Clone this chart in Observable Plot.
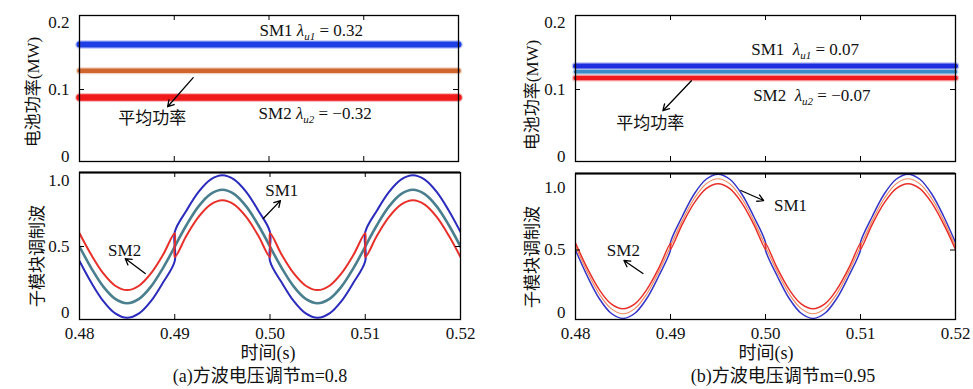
<!DOCTYPE html>
<html><head><meta charset="utf-8">
<script src="https://cdn.jsdelivr.net/npm/d3@7"></script>
<script src="https://cdn.jsdelivr.net/npm/@observablehq/plot@0.6"></script>
<style>
body{margin:0;background:#fff;}
#root{position:relative;width:973px;height:389px;overflow:hidden;font-family:"Liberation Serif","Noto Sans CJK SC",serif;color:#111;}
.p{position:absolute;}
.lbl{position:absolute;font-size:18px;white-space:nowrap;line-height:1;}
.ylbl{position:absolute;font-size:17px;white-space:nowrap;line-height:1;transform:translate(-50%,-50%) rotate(-90deg);}
</style></head><body><div id="root"></div>
<script>
// ---------- data ----------
const timeDomain = [0.48, 0.52];
const timeTicks = [0.48, 0.49, 0.50, 0.51, 0.52];
const powerTicks = [0, 0.1, 0.2];
const modTicks = [0, 0.5, 1.0];

// battery power (MW), panel (a) and (b): SM1, average, SM2
const powerNames = ["SM1", "平均功率", "SM2"];
const powerA = [0.167, 0.128, 0.088];
const powerB = [0.135, 0.1265, 0.117];

// modulation wave sample times (duplicated times mark square-wave jumps)
const tMod = [
  0.48,0.48125,0.4825,0.48375,0.485,0.48625,0.4875,0.48875,0.49,
  0.49,0.49125,0.4925,0.49375,0.495,0.49625,0.4975,0.49875,0.50,
  0.50,0.50125,0.5025,0.50375,0.505,0.50625,0.5075,0.50875,0.51,
  0.51,0.51125,0.5125,0.51375,0.515,0.51625,0.5175,0.51875,0.52
];
// panel (a) m=0.8
const modA_SM1 = [
  0.39,0.225,0.086,-0.007,-0.04,-0.007,0.086,0.225,0.39,
  0.61,0.775,0.914,1.007,1.04,1.007,0.914,0.775,0.61,
  0.39,0.225,0.086,-0.007,-0.04,-0.007,0.086,0.225,0.39,
  0.61,0.775,0.914,1.007,1.04,1.007,0.914,0.775,0.61
];
const modA_avg = [
  0.5,0.335,0.196,0.103,0.07,0.103,0.196,0.335,0.5,
  0.5,0.665,0.804,0.897,0.93,0.897,0.804,0.665,0.5,
  0.5,0.335,0.196,0.103,0.07,0.103,0.196,0.335,0.5,
  0.5,0.665,0.804,0.897,0.93,0.897,0.804,0.665,0.5
];
const modA_SM2 = [
  0.6,0.435,0.296,0.203,0.17,0.203,0.296,0.435,0.6,
  0.42,0.585,0.724,0.817,0.85,0.817,0.724,0.585,0.42,
  0.6,0.435,0.296,0.203,0.17,0.203,0.296,0.435,0.6,
  0.42,0.585,0.724,0.817,0.85,0.817,0.724,0.585,0.42
];
// panel (b) m=0.95
const modB_SM1 = [
  0.5,0.29,0.112,-0.006,-0.047,-0.006,0.112,0.29,0.5,
  0.56,0.77,0.948,1.066,1.107,1.066,0.948,0.77,0.56,
  0.5,0.29,0.112,-0.006,-0.047,-0.006,0.112,0.29,0.5,
  0.56,0.77,0.948,1.066,1.107,1.066,0.948,0.77,0.56
];
const modB_avg = [
  0.53,0.323,0.148,0.031,-0.01,0.031,0.148,0.323,0.53,
  0.53,0.737,0.912,1.029,1.07,1.029,0.912,0.737,0.53,
  0.53,0.323,0.148,0.031,-0.01,0.031,0.148,0.323,0.53,
  0.53,0.737,0.912,1.029,1.07,1.029,0.912,0.737,0.53
];
const modB_SM2 = [
  0.555,0.353,0.183,0.069,0.03,0.069,0.183,0.353,0.555,
  0.505,0.707,0.877,0.991,1.03,0.991,0.877,0.707,0.505,
  0.555,0.353,0.183,0.069,0.03,0.069,0.183,0.353,0.555,
  0.505,0.707,0.877,0.991,1.03,0.991,0.877,0.707,0.505
];

// annotations (data units)
const notesA_top = [
  {label:"SM1 λ_u1 = 0.32", t:0.4990, v:0.1875},
  {label:"SM2 λ_u2 = −0.32", t:0.4989, v:0.064},
  {label:"平均功率", t:0.4841, v:0.0565}
];
const arrowsA_top = [{t1:0.4920, v1:0.1176, t2:0.4893, v2:0.0744}];
const notesB_top = [
  {label:"SM1\u2002λ_u1 = 0.07", t:0.4985, v:0.159},
  {label:"SM2\u2002λ_u2 = −0.07", t:0.4987, v:0.0908},
  {label:"平均功率", t:0.4843, v:0.049}
];
const arrowsB_top = [{t1:0.4922, v1:0.113, t2:0.4892, v2:0.0685}];
const notesA_bot = [
  {label:"SM1", t:0.4995, v:0.924},
  {label:"SM2", t:0.4830, v:0.47}
];
const arrowsA_bot = [
  {t1:0.4993, v1:0.712, t2:0.5011, v2:0.848},
  {t1:0.4869, v1:0.295, t2:0.4848, v2:0.409}
];
const notesB_bot = [
  {label:"SM1", t:0.5009, v:0.856},
  {label:"SM2", t:0.4833, v:0.496}
];
const arrowsB_bot = [
  {t1:0.4974, v1:0.976, t2:0.4998, v2:0.896},
  {t1:0.4871, v1:0.312, t2:0.4851, v2:0.416}
];

// ---------- drawing ----------
const FONT = '"Liberation Serif","Noto Sans CJK SC",serif';
const STYLE = 'font-family:"Liberation Serif","Noto Sans CJK SC",serif;font-size:17px;color:#111;background:transparent;overflow:visible;';
const root = document.getElementById("root");

function inwardTicks(fw, fh, yTicks, len = 5) {
  const xt = timeTicks.slice(1, -1);
  return [
    Plot.tickX(xt, {x: d => d, insetTop: fh - len, stroke: "#000", strokeWidth: 1}),
    Plot.tickX(xt, {x: d => d, insetBottom: fh - len, stroke: "#000", strokeWidth: 1}),
    Plot.tickY(yTicks.slice(1, -1), {y: d => d, insetRight: fw - len, stroke: "#000", strokeWidth: 1}),
    Plot.tickY(yTicks.slice(1, -1), {y: d => d, insetLeft: fw - len, stroke: "#000", strokeWidth: 1})
  ];
}

function subscriptify(svg) {
  const ns = "http://www.w3.org/2000/svg";
  svg.querySelectorAll("text").forEach(el => {
    const m = el.textContent.match(/^(.*?)λ_(\w+)(.*)$/);
    if (!m) return;
    el.textContent = "";
    const add = (txt, attrs) => {
      const t = document.createElementNS(ns, "tspan");
      t.textContent = txt;
      for (const k in attrs) t.setAttribute(k, attrs[k]);
      el.appendChild(t);
    };
    add(m[1], {});
    add("λ", {"font-style": "italic"});
    add(m[2], {"font-style": "italic", "font-size": "11px", dy: "4"});
    add(m[3], {dy: "-4"});
  });
}

function place(svg, left, top) {
  svg.classList.add("p");
  svg.style.left = left + "px";
  svg.style.top = top + "px";
  subscriptify(svg);
  root.appendChild(svg);
}

function powerPanel(values, colors, widths, notes, arrows, left, ml, mr) {
  const W = 480, H = 166, mt = 15, mb = 5;
  const fw = W - ml - mr, fh = H - mt - mb;
  const rows = [];
  values.forEach((v, i) => timeDomain.forEach(t => rows.push({name: powerNames[i], t, v})));
  const svg = Plot.plot({
    width: W, height: H, marginLeft: ml, marginRight: mr, marginTop: mt, marginBottom: mb,
    style: STYLE,
    x: {domain: timeDomain, axis: null},
    y: {domain: [-0.007, 0.21], axis: null},
    marks: [
      // fuzzy edge of the noisy power trace
      ...powerNames.map((n, i) => Plot.line(rows.filter(r => r.name === n), {x: "t", y: "v", stroke: colors[i], strokeWidth: widths[i] + 2.5, strokeOpacity: 0.3})),
      ...powerNames.map((n, i) => Plot.line(rows.filter(r => r.name === n), {x: "t", y: "v", stroke: colors[i], strokeWidth: widths[i]})),
      Plot.frame({stroke: "#000", strokeWidth: 1.3}),
      ...inwardTicks(fw, fh, powerTicks),
      Plot.axisY(powerTicks, {tickSize: 0, tickPadding: 10, fontSize: 17, fontFamily: FONT, label: null, tickFormat: d => d === 0 ? "0" : d.toFixed(1)}),
      Plot.arrow(arrows, {x1: "t1", y1: "v1", x2: "t2", y2: "v2", stroke: "#000", strokeWidth: 1.3, headLength: 8}),
      Plot.text(notes, {x: "t", y: "v", text: "label", textAnchor: "start", fontSize: 17, fontFamily: FONT, fill: "#111"})
    ]
  });
  place(svg, left, 0);
}

function modPanel(series, colors, widths, yDomain, notes, arrows, left, ml, mr, mt) {
  const W = 480, H = 180, mb = 27;
  const fw = W - ml - mr, fh = H - mt - mb;
  const svg = Plot.plot({
    width: W, height: H, marginLeft: ml, marginRight: mr, marginTop: mt, marginBottom: mb,
    style: STYLE,
    x: {domain: timeDomain, axis: null},
    y: {domain: yDomain, axis: null},
    marks: [
      ...series.map((s, i) => Plot.line(tMod.map((t, j) => ({t, v: s[j]})), {x: "t", y: "v", stroke: colors[i], strokeWidth: widths[i], curve: "catmull-rom", clip: true})),
      Plot.frame({stroke: "#000", strokeWidth: 1.3}),
      Plot.ruleY([yDomain[1]], {stroke: "#000", strokeWidth: 2.2}),
      ...inwardTicks(fw, fh, modTicks),
      Plot.axisY(modTicks, {tickSize: 0, tickPadding: 10, fontSize: 17, fontFamily: FONT, label: null, tickFormat: d => d === 0 ? "0" : d.toFixed(1)}),
      Plot.axisX(timeTicks, {tickSize: 0, tickPadding: 7, fontSize: 17, fontFamily: FONT, label: null, tickFormat: d => d.toFixed(2)}),
      Plot.arrow(arrows, {x1: "t1", y1: "v1", x2: "t2", y2: "v2", stroke: "#000", strokeWidth: 1.3, headLength: 8}),
      Plot.text(notes, {x: "t", y: "v", text: "label", textAnchor: "start", fontSize: 17, fontFamily: FONT, fill: "#111"})
    ]
  });
  place(svg, left, 166);
}

powerPanel(powerA, ["#1f3fe6", "#d0662e", "#f01a1a"], [6, 4.5, 6.5], notesA_top, arrowsA_top, 0, 79, 22);
powerPanel(powerB, ["#1f2fe0", "#3b8bc6", "#f01a1a"], [5, 3.5, 4.5], notesB_top, arrowsB_top, 490, 85, 15);
modPanel([modA_avg, modA_SM1, modA_SM2], ["#4a7f8e", "#2b2bbd", "#e8302a"], [2.6, 2, 2],
  [-0.053, 1.061], notesA_bot, arrowsA_bot, 0, 79, 20, 6);
modPanel([modB_SM1, modB_avg, modB_SM2], ["#3535c8", "#ee8a62", "#e8302a"], [1.5, 1.2, 1.5],
  [-0.056, 1.112], notesB_bot, arrowsB_bot, 490, 85, 15, 7);

// text labels around the panels
const labels = [
  {cls: "ylbl", text: "电池功率(MW)", x: 33, y: 92},
  {cls: "ylbl", text: "子模块调制波", x: 37, y: 256},
  {cls: "ylbl", text: "电池功率(MW)", x: 532, y: 95},
  {cls: "ylbl", text: "子模块调制波", x: 532, y: 257}
];
labels.forEach(l => {
  const d = document.createElement("div");
  d.className = l.cls; d.textContent = l.text;
  d.style.left = l.x + "px"; d.style.top = l.y + "px";
  root.appendChild(d);
});
const bottomTexts = [
  {text: "时间(s)", cx: 268, cy: 353},
  {text: "(a)方波电压调节m=0.8", cx: 260, cy: 376},
  {text: "时间(s)", cx: 766, cy: 353},
  {text: "(b)方波电压调节m=0.95", cx: 783, cy: 376}
];
bottomTexts.forEach(l => {
  const d = document.createElement("div");
  d.className = "lbl"; d.textContent = l.text;
  d.style.left = l.cx + "px"; d.style.top = l.cy + "px";
  d.style.transform = "translate(-50%,-50%)";
  root.appendChild(d);
});
</script></body></html>
